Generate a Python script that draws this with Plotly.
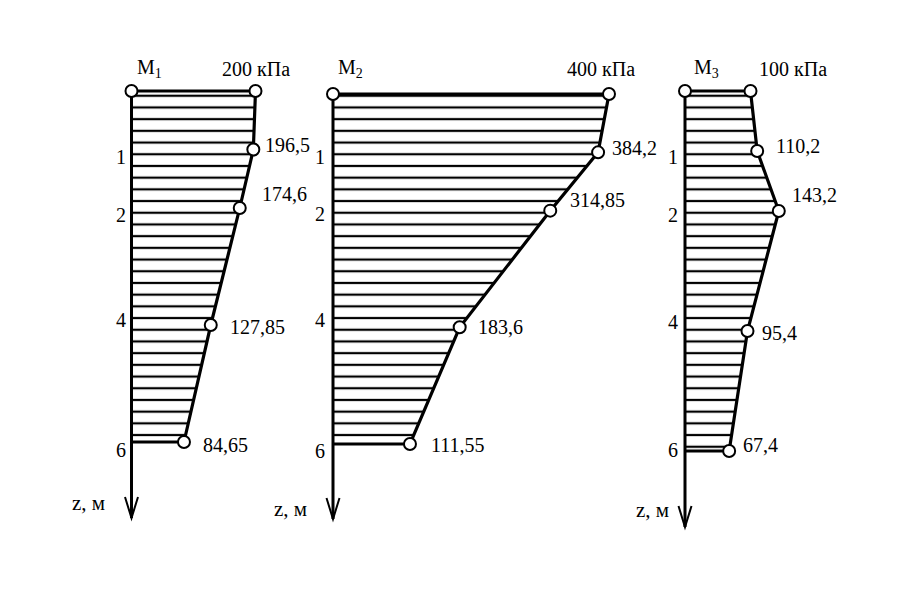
import plotly.graph_objects as go

W, H = 922, 608
OX, OY = 8, 8   # page offset of the plot inside the browser window

# ---------------- data ----------------
depth = [0, 1, 2, 4, 6]                 # z, м
depth_ticks = [1, 2, 4, 6]
tick_text = ["1", "2", "4", "6"]

stress_m1 = [200, 196.5, 174.6, 127.85, 84.65]   # кПа
stress_m2 = [400, 384.2, 314.85, 183.6, 111.55]
stress_m3 = [100, 110.2, 143.2, 95.4, 67.4]

diagram_names = ["M<sub>1</sub>", "M<sub>2</sub>", "M<sub>3</sub>"]
unit = "кПа"
axis_title = "z, м"

# ---------------- geometry (window pixels) ----------------
geom = [
    dict(ax=131.5, sx=0.62, z0=91, sz=58.5, tip=518, name=(149, 69), top=(256, 69),
         zlab=(88, 503), tick_dx=-4, tick_dy=[7, 7, -5, 8],
         lab=[(10, -5), (20, -14), (17, 2), (17, 3)]),
    dict(ax=333, sx=0.69, z0=94, sz=58.33, tip=519, name=(350, 69), top=(601, 69),
         zlab=(290, 509), tick_dx=-6, tick_dy=[5, 3, -7, 7],
         lab=[(12, -4), (18, -11), (16, 0), (19, 1)]),
    dict(ax=685, sx=0.655, z0=91, sz=60, tip=527, name=(706, 69), top=(793, 69),
         zlab=(652, 510), tick_dx=-5, tick_dy=[6, 4, -9, -1],
         lab=[(17, -5), (11, -16), (13, 2), (12, -6)]),
]

FONT = "Liberation Serif"


def px_x(p):
    return p - OX


def px_y(p):
    return p - OY


fig = go.Figure()
annotations = []
shapes = []
layout_axes = {}

for i, (stress, g) in enumerate(zip([stress_m1, stress_m2, stress_m3], geom)):
    n = "" if i == 0 else str(i + 1)
    xr, yr = "x" + n, "y" + n
    ax0 = px_x(g["ax"])
    z0 = px_y(g["z0"])

    # profile polygon with horizontal hatching
    xs = [0] + stress + [0]
    ys = [depth[0]] + depth + [depth[-1]]
    fig.add_trace(go.Scatter(
        x=xs, y=ys, xaxis=xr, yaxis=yr, mode="lines",
        line=dict(color="black", width=3.2),
        fill="toself", fillcolor="rgba(0,0,0,0)",
        fillpattern=dict(shape="-", size=11.7, solidity=0.19,
                         fgcolor="black", bgcolor="rgba(0,0,0,0)", fillmode="replace"),
        hoverinfo="skip", showlegend=False))

    # circles at nodes
    fig.add_trace(go.Scatter(
        x=[0] + stress, y=[depth[0]] + depth, xaxis=xr, yaxis=yr, mode="markers",
        marker=dict(size=12, color="white", line=dict(color="black", width=2)),
        hoverinfo="skip", showlegend=False))

    # axes ranges so that geometry matches pixels
    layout_axes["xaxis" + n] = dict(domain=[0, 1], range=[(0 - ax0) / g["sx"], (W - ax0) / g["sx"]],
                                    visible=False, anchor=yr, fixedrange=True)
    layout_axes["yaxis" + n] = dict(domain=[0, 1], range=[(H - z0) / g["sz"], (0 - z0) / g["sz"]],
                                    visible=False, anchor=xr, fixedrange=True)

    z_tip = (px_y(g["tip"]) - z0) / g["sz"]
    # vertical depth axis
    shapes.append(dict(type="line", xref=xr, yref=yr, x0=0, x1=0, y0=depth[0], y1=z_tip,
                       line=dict(color="black", width=3), layer="below"))
    # open arrow head
    shapes.append(dict(type="path", xref=xr, yref=yr, xsizemode="pixel", ysizemode="pixel",
                       xanchor=0, yanchor=z_tip, path="M-6.5,21 L0,0 L6.5,21",
                       line=dict(color="black", width=2)))

    # depth tick labels
    for t, tt, dy in zip(depth_ticks, tick_text, g["tick_dy"]):
        annotations.append(dict(x=0, y=t, xref=xr, yref=yr, text=tt, showarrow=False,
                                xanchor="right", yanchor="middle", xshift=g["tick_dx"], yshift=-dy,
                                font=dict(family=FONT, size=20, color="black")))

    # value labels
    for v, z, (dx, dy) in zip(stress[1:], depth[1:], g["lab"]):
        annotations.append(dict(x=v, y=z, xref=xr, yref=yr, text=f"{v:g}".replace(".", ","),
                                showarrow=False, xanchor="left", yanchor="middle",
                                xshift=dx, yshift=-dy,
                                font=dict(family=FONT, size=20, color="black")))

    # headers
    annotations.append(dict(x=px_x(g["name"][0]) / W, y=1 - px_y(g["name"][1]) / H,
                            xref="paper", yref="paper",
                            text=diagram_names[i], showarrow=False, xanchor="center", yanchor="middle",
                            font=dict(family=FONT, size=20, color="black")))
    annotations.append(dict(x=px_x(g["top"][0]) / W, y=1 - px_y(g["top"][1]) / H,
                            xref="paper", yref="paper",
                            text=f"{stress[0]:g} {unit}", showarrow=False, xanchor="center",
                            yanchor="middle", font=dict(family=FONT, size=20, color="black")))
    annotations.append(dict(x=px_x(g["zlab"][0]) / W, y=1 - px_y(g["zlab"][1]) / H,
                            xref="paper", yref="paper",
                            text=axis_title, showarrow=False, xanchor="center", yanchor="middle",
                            font=dict(family=FONT, size=21, color="black")))

fig.update_layout(
    width=W, height=H, margin=dict(l=0, r=0, t=0, b=0),
    paper_bgcolor="white", plot_bgcolor="rgba(0,0,0,0)",
    showlegend=False, annotations=annotations, shapes=shapes, **layout_axes)

fig.write_html("out.html")
